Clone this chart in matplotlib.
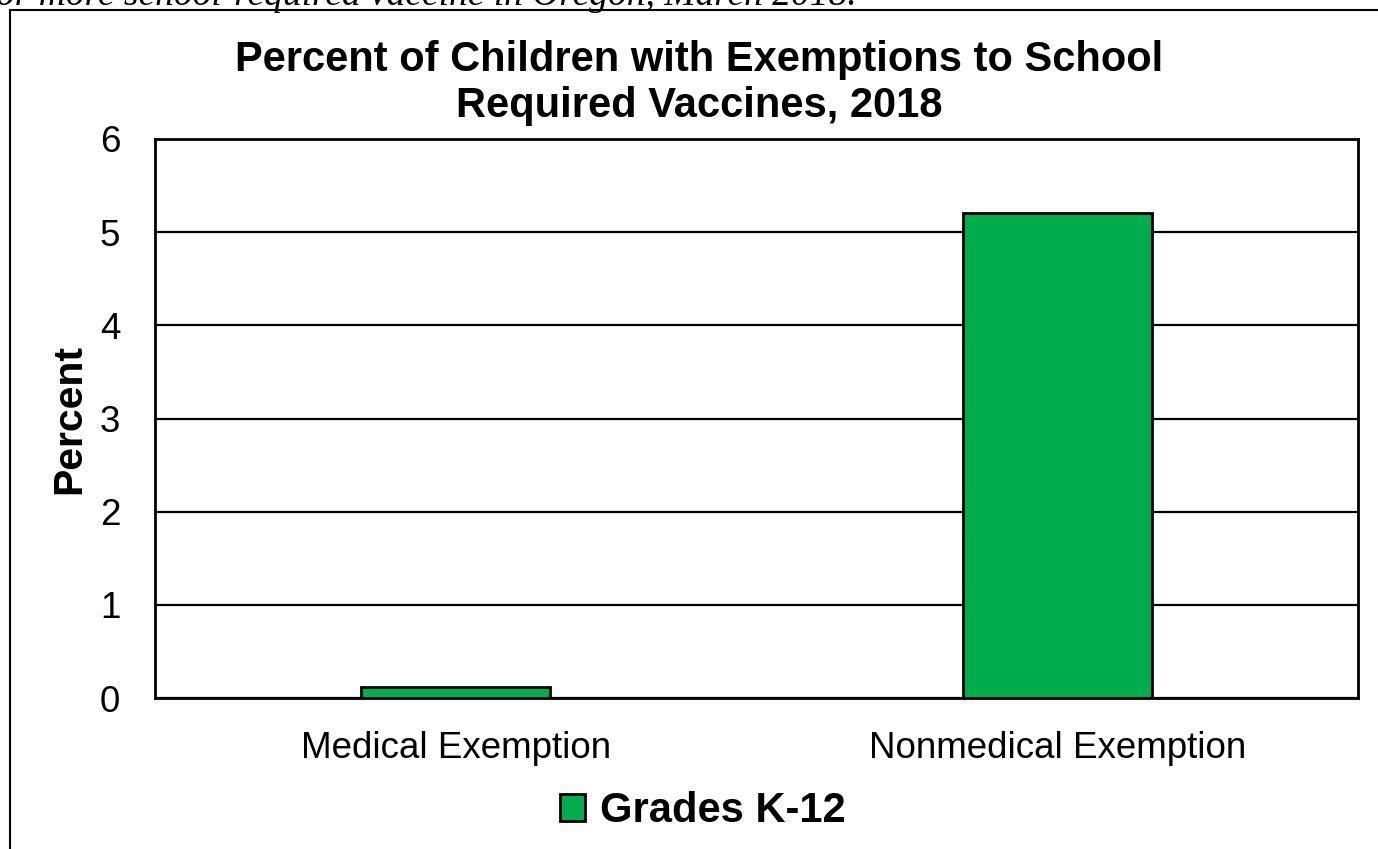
import matplotlib.pyplot as plt
from matplotlib.lines import Line2D

categories = ['Medical Exemption', 'Nonmedical Exemption']
percent = [0.12, 5.21]
series_name = 'Grades K-12'
yticks = [0, 1, 2, 3, 4, 5, 6]

plt.rcParams['font.family'] = ['Liberation Sans', 'DejaVu Sans']

fig = plt.figure(figsize=(13.78, 8.49), dpi=100)
W, H = 1378, 849
ax = fig.add_axes([155 / W, 1 - 698 / H, (1358 - 155) / W, (698 - 139) / H])

x = range(len(categories))
ax.bar(x, percent, width=0.314, color='#00AD4E', edgecolor='black', linewidth=2,
       label=series_name, zorder=3)

ax.set_xlim(-0.5, 1.5)
ax.set_ylim(0, 6)
ax.set_yticks(yticks)
ax.set_xticks(list(x))
ax.set_xticklabels(categories)
ax.tick_params(axis='both', length=0, labelsize=26.5)
ax.tick_params(axis='x', pad=24)
ax.tick_params(axis='y', pad=25)
ax.yaxis.grid(True, color='black', linewidth=1.6, zorder=0)
for s in ax.spines.values():
    s.set_linewidth(2)

ax.set_ylabel('Percent', fontsize=29.5, fontweight='bold')
ax.yaxis.set_label_coords(-0.0557, 0.5)
fig.text(699 / W, 1 - 83 / H, 'Percent of Children with Exemptions to School\nRequired Vaccines, 2018',
         ha='center', va='center', fontsize=30, fontweight='bold', linespacing=1.2)

leg = fig.legend(loc='center', bbox_to_anchor=(703 / W, 1 - 811 / H), frameon=False,
                 fontsize=30, handlelength=0.6, handleheight=0.6, handletextpad=0.35)
for t in leg.get_texts():
    t.set_fontweight('bold')

# outer chart frame (partly cut off) and caption text above it
fig.add_artist(Line2D([10 / W, 10 / W], [0, 1 - 10 / H], color='black', linewidth=1.5,
                      transform=fig.transFigure))
fig.add_artist(Line2D([10 / W, 1], [1 - 10 / H, 1 - 10 / H], color='black', linewidth=1.5,
                      transform=fig.transFigure))
fig.text(-4 / W, 1 - 5 / H, 'or more school-required vaccine in Oregon, March 2018.',
         ha='left', va='baseline', fontsize=27, style='italic', family='Liberation Serif')

fig.savefig('out.png', dpi=100)
